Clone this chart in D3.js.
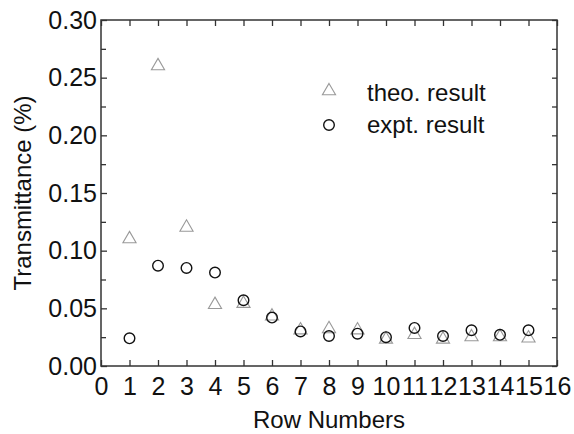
<!DOCTYPE html>
<html><head><meta charset="utf-8">
<script src="https://cdn.jsdelivr.net/npm/d3@7"></script>
<style>body{margin:0;background:#fff;} text{font-family:"Liberation Sans",Arial,sans-serif;}</style>
</head><body>
<svg id="c" width="574" height="434"></svg>
<script>
const rows = [1,2,3,4,5,6,7,8,9,10,11,12,13,14,15];
const theo = [0.111,0.261,0.121,0.054,0.055,0.044,0.032,0.033,0.032,0.024,0.028,0.024,0.026,0.026,0.025];
const expt = [0.024,0.087,0.085,0.081,0.057,0.042,0.030,0.026,0.028,0.025,0.033,0.026,0.031,0.027,0.031];
const xTicks = d3.range(0,17);
const yTicks = [0,0.05,0.10,0.15,0.20,0.25,0.30];
const yMinor = [0.025,0.075,0.125,0.175,0.225,0.275];
const seriesNames = ["theo. result","expt. result"];

const L=101, R=557, T=20, B=366;
const svg=d3.select("#c");
const x=d3.scaleLinear().domain([0,16]).range([L,R]);
const y=d3.scaleLinear().domain([0,0.30]).range([B,T]);
const axCol="#333";
const fs=25;

svg.append("rect").attr("x",L).attr("y",T).attr("width",R-L).attr("height",B-T)
  .attr("fill","none").attr("stroke",axCol).attr("stroke-width",1.5);

const gx=svg.append("g").attr("transform",`translate(0,${B})`)
  .call(d3.axisBottom(x).tickValues(xTicks).tickFormat(d3.format("d")).tickSizeInner(-6).tickSizeOuter(0).tickPadding(11));
const gt=svg.append("g").attr("transform",`translate(0,${T})`)
  .call(d3.axisTop(x).tickValues(xTicks).tickFormat("").tickSizeInner(-6).tickSizeOuter(0));
const gy=svg.append("g").attr("transform",`translate(${L},0)`)
  .call(d3.axisLeft(y).tickValues(yTicks).tickFormat(d3.format(".2f")).tickSizeInner(-6).tickSizeOuter(0).tickPadding(4));
const gym=svg.append("g").attr("transform",`translate(${L},0)`)
  .call(d3.axisLeft(y).tickValues(yMinor).tickFormat("").tickSizeInner(-5).tickSizeOuter(0));
const gr=svg.append("g").attr("transform",`translate(${R},0)`)
  .call(d3.axisRight(y).tickValues(yTicks.concat(yMinor)).tickFormat("").tickSizeInner(-5).tickSizeOuter(0));
[gx,gt,gy,gym,gr].forEach(g=>{
  g.select(".domain").remove();
  g.selectAll("line").attr("stroke",axCol).attr("stroke-width",1.3);
  g.selectAll("text").attr("font-size",fs).attr("fill","#111");
});

svg.append("text").attr("x",(L+R)/2).attr("y",428).attr("text-anchor","middle")
  .attr("font-size",24).attr("fill","#111").text("Row Numbers");
svg.append("text").attr("transform",`translate(31,${(T+B)/2}) rotate(-90)`).attr("text-anchor","middle")
  .attr("font-size",24).attr("fill","#111").text("Transmittance (%)");

const tri=d3.symbol().type(d3.symbolTriangle).size(75);
svg.append("g").selectAll("path").data(rows).join("path")
  .attr("transform",(d,i)=>`translate(${x(d)},${y(theo[i])+1})`)
  .attr("d",tri).attr("fill","none").attr("stroke","#999").attr("stroke-width",1.1);
svg.append("g").selectAll("circle").data(rows).join("circle")
  .attr("cx",d=>x(d)).attr("cy",(d,i)=>y(expt[i])).attr("r",5.3)
  .attr("fill","none").attr("stroke","#111").attr("stroke-width",1.4);

const lg=svg.append("g");
lg.append("path").attr("transform","translate(329,91)").attr("d",tri).attr("fill","none").attr("stroke","#999").attr("stroke-width",1.1);
lg.append("circle").attr("cx",329).attr("cy",125).attr("r",5.3).attr("fill","none").attr("stroke","#111").attr("stroke-width",1.4);
lg.append("text").attr("x",367).attr("y",101).attr("font-size",24).attr("fill","#111").text(seriesNames[0]);
lg.append("text").attr("x",367).attr("y",133).attr("font-size",24).attr("fill","#111").text(seriesNames[1]);
</script>
</body></html>
